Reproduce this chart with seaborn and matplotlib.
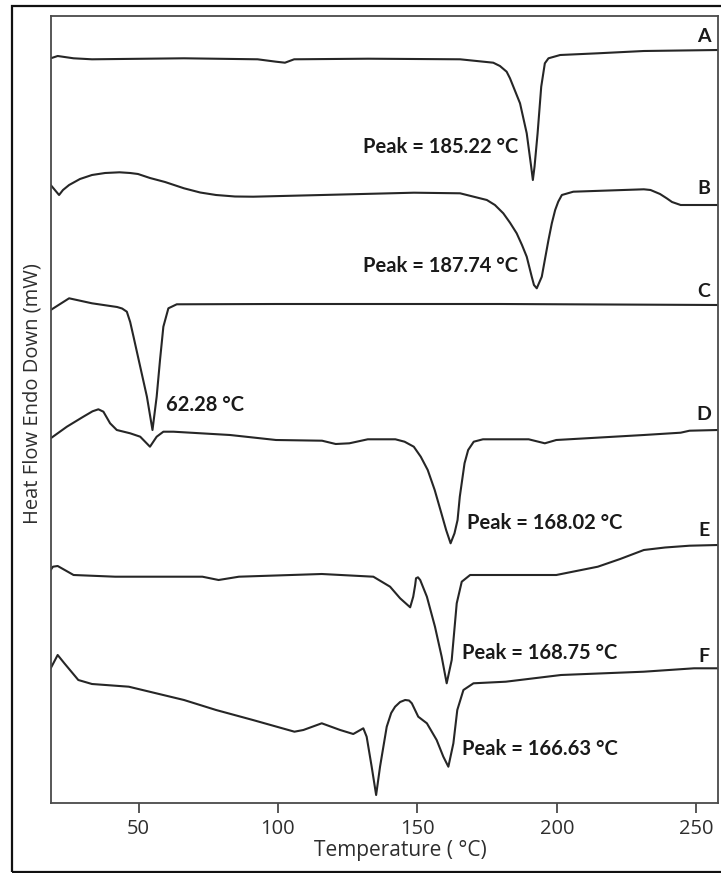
import matplotlib
matplotlib.use("Agg")
import matplotlib.pyplot as plt
import seaborn as sns
import pandas as pd
from matplotlib.patches import Rectangle

# ---- data: temperature (°C) and heat flow (arbitrary offset units) ----
A_T = [18.5, 21.0, 26.7, 33.3, 66.3, 92.7, 99.3, 102.5, 105.8, 132.3, 165.3, 177.2, 179.6, 182.0,
       183.2, 186.8, 189.2, 190.8, 191.4, 192.0, 193.1, 194.4, 195.7, 197.0, 201.2, 214.7, 231.2, 257.8]
A_Y = [745.0, 747.3, 745.0, 744.0, 745.0, 744.0, 741.6, 740.6, 744.0, 744.6, 744.0, 740.6, 737.3, 731.6,
       725.0, 700.0, 670.0, 636.6, 623.3, 636.6, 670.0, 716.6, 740.0, 745.0, 748.3, 750.0, 752.3, 753.3]

B_T = [18.5, 21.5, 22.9, 25.1, 29.0, 33.3, 38.0, 43.2, 47.0, 49.8, 54.1, 59.5, 66.3, 72.1, 77.8, 84.6,
       91.1, 115.8, 148.8, 165.3, 174.9, 177.8, 180.8, 183.2, 185.6, 187.5, 189.2, 191.0, 191.8, 192.8,
       194.6, 195.8, 197.0, 198.2, 199.4, 200.5, 201.8, 205.9, 231.2, 233.6, 237.0, 239.4, 241.3, 244.4, 257.8]
B_Y = [618.3, 608.3, 613.3, 618.3, 624.3, 628.3, 630.3, 631.0, 630.3, 629.3, 625.3, 621.3, 615.0, 610.8, 608.3, 606.8,
       606.6, 608.3, 610.6, 610.0, 603.3, 598.3, 590.0, 580.6, 570.0, 558.3, 546.6, 526.6, 518.3, 515.0,
       526.6, 545.0, 563.3, 580.0, 593.3, 601.6, 608.3, 611.6, 614.0, 613.3, 609.3, 605.0, 601.3, 598.3, 598.3]

C_T = [18.5, 25.1, 33.3, 42.3, 44.1, 45.8, 47.0, 48.2, 50.6, 53.0, 55.0, 56.5, 57.7, 58.9, 60.7, 63.7,
       99.3, 179.6, 257.8]
C_Y = [493.3, 505.0, 500.0, 496.3, 494.8, 491.6, 481.3, 466.6, 436.6, 406.6, 373.3, 406.6, 443.3, 476.6, 495.0, 499.0,
       499.3, 499.3, 498.3]

D_T = [18.5, 24.3, 30.2, 33.5, 35.6, 37.4, 39.8, 42.2, 47.0, 50.6, 54.1, 56.5, 58.9, 62.5, 82.8, 99.3,
       115.8, 120.7, 125.6, 132.2, 142.1, 145.4, 148.7, 151.2, 153.7, 156.2, 158.6, 160.3, 161.9, 163.3,
       164.4, 165.2, 166.9, 168.2, 170.2, 173.5, 189.9, 195.7, 199.8, 231.2, 244.4, 247.6, 257.8]
D_Y = [365.0, 376.6, 386.6, 392.0, 394.0, 391.6, 380.0, 373.3, 370.0, 366.6, 356.6, 366.6, 371.6, 371.6, 368.3, 363.3,
       362.6, 359.3, 360.0, 364.0, 364.0, 361.6, 356.6, 346.6, 333.3, 313.3, 290.0, 273.3, 260.0, 270.0,
       283.3, 306.6, 340.0, 353.3, 361.6, 364.0, 364.0, 360.0, 363.3, 368.3, 370.6, 372.6, 373.3]

E_T = [18.5, 19.3, 21.0, 26.7, 41.6, 72.9, 78.7, 86.0, 115.7, 134.2, 140.2, 143.8, 147.4, 148.5,
       149.2, 149.5, 150.2, 151.0, 153.4, 156.3, 158.7, 160.5, 162.3, 164.1, 165.9, 168.9, 181.7, 199.8, 214.7,
       222.7, 231.2, 238.8, 247.6, 257.8]
E_Y = [233.3, 236.6, 237.3, 228.3, 226.6, 226.6, 223.3, 226.6, 229.3, 226.6, 216.6, 205.0, 196.0, 206.6,
       218.3, 225.0, 226.0, 223.3, 206.6, 176.6, 146.6, 120.0, 143.3, 200.0, 221.6, 228.3, 228.3, 228.3, 236.6,
       244.3, 253.3, 255.8, 257.6, 258.3]

F_T = [18.5, 21.0, 23.4, 28.4, 33.3, 46.5, 66.3, 77.8, 91.0, 105.9, 109.1, 115.7, 122.3, 127.0,
       130.6, 131.8, 133.6, 135.2, 136.6, 139.0, 140.6, 142.0, 143.8, 145.6, 147.0, 148.0, 150.3, 153.4,
       156.9, 159.3, 161.1, 162.9, 164.3, 166.5, 170.1, 181.7, 201.5, 231.2, 249.2, 257.8]
F_Y = [135.0, 148.3, 140.0, 123.3, 119.3, 116.6, 103.3, 93.3, 83.3, 71.6, 73.3, 80.0, 73.3, 69.3,
       75.0, 66.6, 36.6, 8.3, 36.6, 76.6, 90.3, 96.6, 101.3, 103.3, 102.8, 100.0, 86.6, 80.0,
       63.3, 46.6, 36.6, 60.0, 93.3, 113.3, 120.0, 121.6, 128.3, 131.6, 135.0, 135.0]

curve_names = ["A", "B", "C", "D", "E", "F"]
label_y = [766.3, 614.3, 511.6, 388.3, 273.3, 146.3]

peak_texts = ["Peak = 185.22 °C", "Peak = 187.74 °C", "62.28 °C",
              "Peak = 168.02 °C", "Peak = 168.75 °C", "Peak = 166.63 °C"]
peak_T = [130.5, 130.5, 59.7, 167.7, 166.0, 166.0]
peak_Y = [656.6, 537.3, 398.3, 280.6, 150.6, 54.0]

x_ticks = [50, 100, 150, 200, 250]

# ---- build long-form table ----
frames = []
for name, t, y in zip(curve_names, [A_T, B_T, C_T, D_T, E_T, F_T], [A_Y, B_Y, C_Y, D_Y, E_Y, F_Y]):
    frames.append(pd.DataFrame({"T": t, "hf": y, "curve": name}))
df = pd.concat(frames, ignore_index=True)

sns.set_theme(style="white")
plt.rcParams["font.family"] = ["Open Sans", "DejaVu Sans"]

fig = plt.figure(figsize=(7.21, 8.73), dpi=100)
ax = fig.add_axes([50.7 / 721, (873 - 803.3) / 873, (718.3 - 50.7) / 721, (803.3 - 15.5) / 873])

sns.lineplot(data=df, x="T", y="hf", hue="curve", estimator=None, sort=False,
             palette={n: "#262626" for n in curve_names}, legend=False,
             linewidth=1.5, ax=ax)
for ln in ax.get_lines():
    ln.set_solid_joinstyle("round")
    ln.set_solid_capstyle("round")

ax.set_xlim(18.5, 257.9)
ax.set_ylim(0, 787.8)
ax.set_xticks(x_ticks)
ax.set_xticklabels([str(v) for v in x_ticks])
ax.set_yticks([])

for s in ax.spines.values():
    s.set_color("#4a4a4a")
    s.set_linewidth(1.3)
    s.set_visible(True)

ax.tick_params(axis="x", which="major", direction="out", length=7, width=1.3,
               color="#4a4a4a", pad=4, labelsize=14.5, labelcolor="#2e2e2e", bottom=True)

ax.set_xlabel("Temperature ( °C)", fontsize=15, color="#2e2e2e")
ax.xaxis.set_label_coords((400 - 50.7) / 667.6, (803.3 - 840) / 787.8)
ax.set_ylabel("Heat Flow Endo Down (mW)", fontsize=14.5, color="#2e2e2e")
ax.yaxis.set_label_coords((43 - 50.7) / 667.6, (803.3 - 394) / 787.8)

for name, y in zip(curve_names, label_y):
    ax.text(252.8, y, name, ha="center", va="center", fontsize=14, fontweight="bold",
            family=["Lato", "DejaVu Sans"], color="#1a1a1a")

for txt, t, y in zip(peak_texts, peak_T, peak_Y):
    ax.text(t, y, txt, ha="left", va="center", fontsize=14.5, fontweight="bold",
            family=["Lato", "DejaVu Sans"], color="#1a1a1a")

# outer frame around the whole figure
fig.patches.append(Rectangle((11.5 / 721, 1.3 / 873), (730 - 11.5) / 721, (871.7 - 5.5) / 873,
                             transform=fig.transFigure, fill=False, edgecolor="#111111",
                             linewidth=1.6))

fig.savefig("out.png", dpi=100)
